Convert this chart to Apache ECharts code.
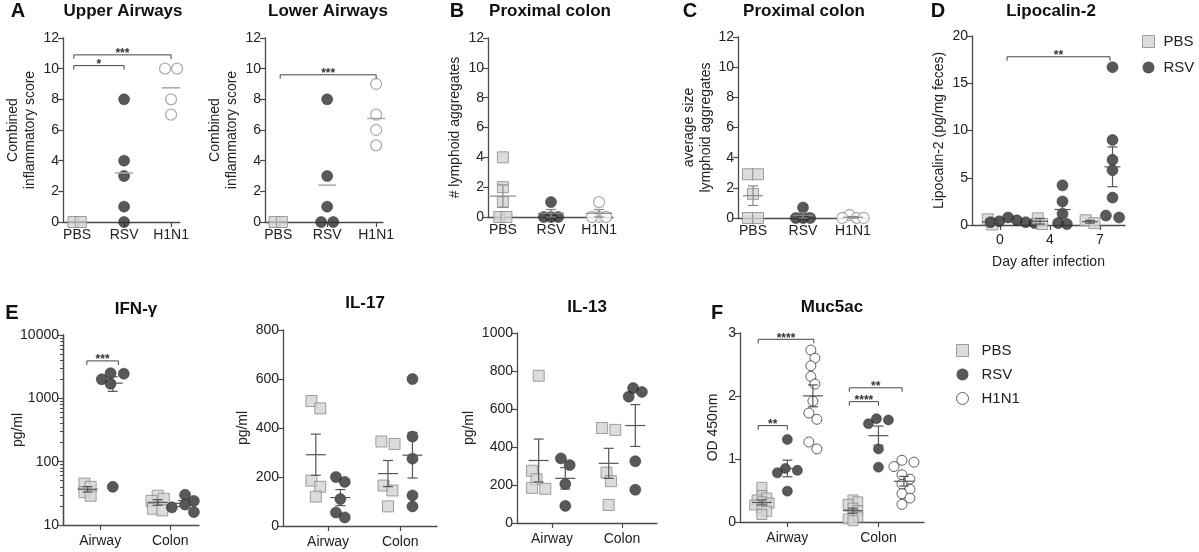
<!DOCTYPE html>
<html>
<head>
<meta charset="utf-8">
<script src="https://cdn.jsdelivr.net/npm/echarts@6/dist/echarts.min.js"></script>
<style>
html, body { margin: 0; padding: 0; background: #fff; }
#main { width: 1199px; height: 552px; }
</style>
</head>
<body>
<div id="main"></div>
<script>
// ---- data ----
var groups = ['PBS', 'RSV', 'H1N1'];
var upperPBS = [0, 0];
var upperRSV = [8, 4, 3, 1, 0];
var upperH1N1 = [10, 10, 8, 7];
var lowerPBS = [0, 0];
var lowerRSV = [8, 3, 1, 0, 0];
var lowerH1N1 = [9, 7, 6, 5];
var aggPBS = [4, 2, 1, 0, 0];
var aggRSV = [1, 0, 0, 0];
var aggH1N1 = [1, 0, 0, 0];
var sizePBS = [2.9, 2.9, 1.6, 0, 0];
var sizeRSV = [0.7, 0, 0, 0];
var sizeH1N1 = [0.2, 0, 0, 0];

var dayLabels = ['0', '4', '7'];
var lcnPBS = [[0.6, 0.05], [0.7, 0.1], [0.5, 0.2]];
var lcnRSV = [[0.8, 0.5, 0.4, 0.3, 0.3, 0.2], [4.2, 2.5, 1.2, 0.2, 0.1], [16.7, 9.0, 6.9, 5.8, 2.9, 1.0, 0.8]];

var sites = ['Airway', 'Colon'];
var ifngPBS = [[45, 40, 33, 29], [29, 26, 24, 18, 17]];
var ifngRSV = [[2500, 2450, 2000, 1700, 40], [30, 24, 21, 19, 16]];
var il17PBS = [[510, 480, 185, 160, 120], [345, 335, 165, 145, 80]];
var il17RSV = [[200, 180, 110, 55, 35], [600, 365, 275, 125, 80]];
var il13PBS = [[775, 275, 230, 185, 180], [500, 490, 265, 220, 95]];
var il13RSV = [[340, 305, 205, 90], [710, 690, 665, 325, 175]];
var mucPBS = [[0.55, 0.42, 0.38, 0.35, 0.32, 0.30, 0.27, 0.22, 0.17, 0.12], [0.35, 0.32, 0.28, 0.22, 0.18, 0.12, 0.08, 0.05, 0.02]];
var mucRSV = [[1.31, 0.85, 0.82, 0.78, 0.49], [1.64, 1.62, 1.56, 1.16, 0.87]];
var mucH1N1 = [[2.73, 2.60, 2.48, 2.31, 2.19, 1.92, 1.73, 1.63, 1.27, 1.16], [0.98, 0.95, 0.88, 0.75, 0.68, 0.60, 0.52, 0.45, 0.38, 0.28]];

// significance brackets: [from x, to x, y, label]
var sigUpper = [[0.93, 2, 10.2, '*'], [0.93, 3, 10.9, '***']];
var sigLower = [[1.04, 3, 9.6, '***']];
var sigLcn = [[1.14, 3.2, 17.8, '**']];
var sigIfng = [[0.81, 1.26, 3900, '***']];
var sigMuc = [[0.68, 1.29, 2.9, '****'], [0.68, 1.0, 1.53, '**'], [1.68, 2.26, 2.13, '**'], [1.68, 2.0, 1.91, '****']];

// ---- styling ----
var FONT = '"Liberation Sans", Arial, Helvetica, sans-serif';
var AX = '#4a4a4a';
var STY = {
    PBS: { symbol: 'rect', itemStyle: { color: '#d3d3d3', borderColor: '#8a8a8a', borderWidth: 1 } },
    RSV: { symbol: 'circle', itemStyle: { color: '#2f2f2f', borderColor: '#222', borderWidth: 0.6 } },
    H1N1: { symbol: 'circle', itemStyle: { color: '#fff', borderColor: '#9a9a9a', borderWidth: 1.3 } },
    H1N1dark: { symbol: 'circle', itemStyle: { color: '#fff', borderColor: '#3a3a3a', borderWidth: 1 } }
};

var grids = [], xAxes = [], yAxes = [], series = [];

function meanSem(v) {
    var n = v.length, m = 0, s = 0;
    v.forEach(function (a) { m += a; });
    m /= n;
    v.forEach(function (a) { s += (a - m) * (a - m); });
    var sem = n > 1 ? Math.sqrt(s / (n - 1)) / Math.sqrt(n) : 0;
    return [m, sem];
}

// column-scatter placement so close values sit side by side, clusters centred
function swarm(vals, cx, p, size, tf) {
    tf = tf || 1;
    var pxX = p.w / (p.xMax - p.xMin);
    var ly = function (v) {
        if (p.log) return (Math.log10(v) - Math.log10(p.yMin)) / (Math.log10(p.yMax) - Math.log10(p.yMin)) * p.h;
        return (v - p.yMin) / (p.yMax - p.yMin) * p.h;
    };
    var thr = p.thr * size * tf, step = p.step * size * tf;
    var order = vals.map(function (v, i) { return i; }).sort(function (a, b) { return vals[b] - vals[a]; });
    var placed = [];
    order.forEach(function (i) {
        var py = ly(vals[i]), off = 0;
        for (var k = 0; k < 40; k++) {
            off = k === 0 ? 0 : (k % 2 ? 1 : -1) * Math.ceil(k / 2) * step;
            var ok = placed.every(function (q) {
                var dx = off - q.off, dy = py - q.py;
                return dx * dx + dy * dy >= thr * thr;
            });
            if (ok) break;
        }
        placed.push({ off: off, py: py, v: vals[i] });
    });
    // centre each run of vertically close points
    var run = [];
    function flush() {
        if (run.length > 1) {
            var lo = Math.min.apply(null, run.map(function (q) { return q.off; }));
            var hi = Math.max.apply(null, run.map(function (q) { return q.off; }));
            run.forEach(function (q) { q.off -= (lo + hi) / 2; });
        }
        run = [];
    }
    placed.forEach(function (q, j) {
        if (j > 0 && placed[j - 1].py - q.py >= thr) flush();
        run.push(q);
    });
    flush();
    return placed.map(function (q) { return [cx + q.off / pxX, q.v]; });
}

function plain(v) { return String(Math.round(v * 1000) / 1000); }

function addPanel(p) {
    var gi = grids.length;
    grids.push({ left: p.left, top: p.top, width: p.w, height: p.h });
    xAxes.push({
        gridIndex: gi, type: 'value', min: p.xMin, max: p.xMax,
        axisLine: { show: true, onZero: false, lineStyle: { color: AX, width: 1.3 } },
        axisTick: { show: true, customValues: p.ticks, length: 5, lineStyle: { color: AX, width: 1.2 } },
        axisLabel: {
            customValues: p.ticks, fontSize: 14, color: '#222', fontFamily: FONT, margin: p.xMargin || 6,
            formatter: function (v) { return p.cats[Math.round(v) - 1] || ''; }
        },
        splitLine: { show: false },
        name: p.xName || '', nameLocation: 'middle', nameGap: 30,
        nameTextStyle: { fontSize: 14, color: '#222', fontFamily: FONT }
    });
    var ya = {
        gridIndex: gi, type: p.log ? 'log' : 'value', min: p.yMin, max: p.yMax, position: 'left',
        axisLine: { show: true, onZero: false, lineStyle: { color: AX, width: 1.3 } },
        axisTick: { show: true, length: 5, lineStyle: { color: AX, width: 1.2 } },
        axisLabel: { fontSize: 14, color: '#222', fontFamily: FONT, margin: 4, formatter: plain },
        splitLine: { show: false },
        name: p.yName, nameLocation: 'middle', nameRotate: 90, nameGap: p.nameGap,
        nameTextStyle: { fontSize: 14, color: '#222', fontFamily: FONT, lineHeight: 17 }
    };
    if (p.log) {
        ya.logBase = 10;
        ya.nameMoveOverlap = false;
        ya.axisTick.customValues = p.logTicks;
        ya.axisLabel.customValues = p.logTicks;
    } else {
        ya.interval = p.yInt;
    }
    var yi = yAxes.length;
    yAxes.push(ya);
    if (p.log) {
        // minor ticks between decades
        var minor = [];
        for (var d = p.yMin; d < p.yMax; d *= 10) {
            for (var k = 2; k < 10; k++) minor.push(d * k);
        }
        yAxes.push({
            gridIndex: gi, type: 'log', logBase: 10, min: p.yMin, max: p.yMax, position: 'left', offset: 0,
            axisLine: { show: true, onZero: false, lineStyle: { color: AX, width: 1.3 } },
            splitLine: { show: false },
            axisLabel: { show: false, customValues: minor },
            axisTick: { show: true, customValues: minor, length: 3, lineStyle: { color: AX, width: 1 } }
        });
    }
    p.xi = gi; p.yi = yi;
    return p;
}

function addGroup(p, name, vals, cx, styleKey, size, tf) {
    var st = STY[styleKey || name];
    series.push({
        type: 'scatter', name: name, xAxisIndex: p.xi, yAxisIndex: p.yi,
        data: swarm(vals, cx, p, size, tf), clip: false,
        symbol: st.symbol, symbolSize: size, itemStyle: st.itemStyle,
        silent: true, z: 2, animation: false
    });
    var ms = meanSem(vals);
    series.push({
        type: 'custom', xAxisIndex: p.xi, yAxisIndex: p.yi, silent: true, z: 6, animation: false,
        data: [[cx, ms[0], ms[0] - ms[1], ms[0] + ms[1]]],
        renderItem: function (params, api) {
            var c = api.coord([api.value(0), api.value(1)]);
            var lo = api.coord([api.value(0), api.value(2)]);
            var hi = api.coord([api.value(0), api.value(3)]);
            var ls = { stroke: p.meanColor, lineWidth: p.meanWidth };
            var kids = [{ type: 'line', shape: { x1: c[0] - p.meanHalf, y1: c[1], x2: c[0] + p.meanHalf, y2: c[1] }, style: ls }];
            if (p.errBars) {
                kids.push({ type: 'line', shape: { x1: c[0], y1: lo[1], x2: c[0], y2: hi[1] }, style: ls });
                kids.push({ type: 'line', shape: { x1: c[0] - 5, y1: lo[1], x2: c[0] + 5, y2: lo[1] }, style: ls });
                kids.push({ type: 'line', shape: { x1: c[0] - 5, y1: hi[1], x2: c[0] + 5, y2: hi[1] }, style: ls });
            }
            return { type: 'group', children: kids };
        }
    });
}

function addSig(p, list) {
    series.push({
        type: 'custom', xAxisIndex: p.xi, yAxisIndex: p.yi, silent: true, z: 7, animation: false,
        data: list.map(function (s) { return [s[0], s[1], s[2]]; }),
        renderItem: function (params, api) {
            var a = api.coord([api.value(0), api.value(2)]);
            var b = api.coord([api.value(1), api.value(2)]);
            var lab = list[params.dataIndex][3];
            return {
                type: 'group', children: [
                    { type: 'polyline', shape: { points: [[a[0], a[1] + 4], [a[0], a[1]], [b[0], a[1]], [b[0], a[1] + 4]] },
                      style: { stroke: '#444', lineWidth: 1, fill: null } },
                    { type: 'text', style: { text: lab, x: (a[0] + b[0]) / 2, y: a[1] - 1, align: 'center', verticalAlign: 'middle',
                      font: 'bold 12px ' + FONT, fill: '#333' } }
                ]
            };
        }
    });
}

// ---- panels ----
var base = { ticks: [1, 2, 3], cats: groups, thr: 0.9, step: 0.55, meanColor: '#a8a8a8', meanWidth: 1.5, meanHalf: 9, errBars: false };
function P(o) { var r = {}; for (var k in base) r[k] = base[k]; for (var j in o) r[j] = o[j]; return r; }

var pUp = addPanel(P({ left: 63, top: 38, w: 117, h: 184, xMin: 0.7, xMax: 3.19, yMin: 0, yMax: 12, yInt: 2,
    yName: 'Combined\ninflammatory score', nameGap: 24 }));
addGroup(pUp, 'PBS', upperPBS, 1, null, 11, 0.6);
addGroup(pUp, 'RSV', upperRSV, 2, null, 11);
addGroup(pUp, 'H1N1', upperH1N1, 3, null, 11);
addSig(pUp, sigUpper);

var pLo = addPanel(P({ left: 265, top: 38, w: 118, h: 184, xMin: 0.73, xMax: 3.14, yMin: 0, yMax: 12, yInt: 2,
    yName: 'Combined\ninflammatory score', nameGap: 24 }));
addGroup(pLo, 'PBS', lowerPBS, 1, null, 11, 0.6);
addGroup(pLo, 'RSV', lowerRSV, 2, null, 11);
addGroup(pLo, 'H1N1', lowerH1N1, 3, null, 11);
addSig(pLo, sigLower);

var pB = addPanel(P({ left: 488, top: 38, w: 125, h: 179, xMin: 0.69, xMax: 3.29, yMin: 0, yMax: 12, yInt: 2,
    yName: '# lymphoid aggregates', nameGap: 24, thr: 0.65, step: 0.65, meanColor: '#888', meanWidth: 1.2, meanHalf: 13, errBars: true }));
addGroup(pB, 'PBS', aggPBS, 1, null, 11);
addGroup(pB, 'RSV', aggRSV, 2, null, 11);
addGroup(pB, 'H1N1', aggH1N1, 3, null, 11);

var pC = addPanel(P({ left: 738, top: 37, w: 129, h: 181, xMin: 0.7, xMax: 3.28, yMin: 0, yMax: 12, yInt: 2,
    yName: 'average size\nlymphoid aggregates', nameGap: 20, thr: 0.65, step: 0.65, meanColor: '#888', meanWidth: 1.2, meanHalf: 10, errBars: true }));
addGroup(pC, 'PBS', sizePBS, 1, null, 11, 1.4);
addGroup(pC, 'RSV', sizeRSV, 2, null, 11);
addGroup(pC, 'H1N1', sizeH1N1, 3, null, 11);

var pD = addPanel(P({ left: 972, top: 36, w: 153, h: 189, xMin: 0.44, xMax: 3.5, yMin: 0, yMax: 20, yInt: 5,
    cats: dayLabels, xName: 'Day after infection', yName: 'Lipocalin-2 (pg/mg feces)', nameGap: 24, xMargin: 8,
    thr: 0.6, step: 0.4, meanColor: '#555', meanWidth: 1.2, meanHalf: 8, errBars: true }));
for (var d = 0; d < 3; d++) {
    addGroup(pD, 'PBS', lcnPBS[d], d + 1 - 0.2, null, 11);
    addGroup(pD, 'RSV', lcnRSV[d], d + 1 + 0.25, null, 11, d === 2 ? 1.5 : 1);
}
addSig(pD, sigLcn);

var eBase = { ticks: [1, 2], cats: sites, thr: 0.85, step: 0.4, meanColor: '#555', meanWidth: 1.2, meanHalf: 10, errBars: true, xMargin: 9 };
function E(o) { var r = P(eBase); for (var k in eBase) r[k] = eBase[k]; for (var j in o) r[j] = o[j]; return r; }

var pIfn = addPanel(E({ left: 63, top: 335, w: 136, h: 190, xMin: 0.47, xMax: 2.41, yMin: 10, yMax: 10000, log: true,
    logTicks: [10, 100, 1000, 10000], yName: 'pg/ml', nameGap: 36 }));
var p17 = addPanel(E({ left: 283, top: 330, w: 154, h: 196, xMin: 0.375, xMax: 2.51, yMin: 0, yMax: 800, yInt: 200,
    yName: 'pg/ml', nameGap: 20 }));
var p13 = addPanel(E({ left: 517, top: 333, w: 140, h: 190, xMin: 0.5, xMax: 2.5, yMin: 0, yMax: 1000, yInt: 200,
    yName: 'pg/ml', nameGap: 39 }));
var pF = addPanel(E({ left: 740, top: 333, w: 184, h: 189, xMin: 0.48, xMax: 2.5, yMin: 0, yMax: 3, yInt: 1,
    yName: 'OD 450nm', nameGap: 18 }));
for (var s = 0; s < 2; s++) {
    addGroup(pIfn, 'PBS', ifngPBS[s], s + 1 - 0.18, null, 11, 0.7);
    addGroup(pIfn, 'RSV', ifngRSV[s], s + 1 + 0.18, null, 11);
    addGroup(p17, 'PBS', il17PBS[s], s + 1 - 0.17, null, 11);
    addGroup(p17, 'RSV', il17RSV[s], s + 1 + 0.17, null, 11);
    addGroup(p13, 'PBS', il13PBS[s], s + 1 - 0.19, null, 11);
    addGroup(p13, 'RSV', il13RSV[s], s + 1 + 0.19, null, 11);
    addGroup(pF, 'PBS', mucPBS[s], s + 1 - 0.28, null, 10, 0.6);
    addGroup(pF, 'RSV', mucRSV[s], s + 1, null, 10);
    addGroup(pF, 'H1N1', mucH1N1[s], s + 1 + 0.28, 'H1N1dark', 10);
}
addSig(pIfn, sigIfng);
addSig(pF, sigMuc);

// ---- titles ----
var heads = [
    ['A', 18, 11, 20], ['Upper Airways', 123, 11, 17], ['Lower Airways', 328, 11, 17],
    ['B', 457, 11, 20], ['Proximal colon', 550, 11, 17],
    ['C', 690, 11, 20], ['Proximal colon', 804, 11, 17],
    ['D', 938, 11, 20], ['Lipocalin-2', 1051, 11, 17],
    ['E', 12, 313, 20], ['IFN-\u03b3', 136, 309, 17], ['IL-17', 365, 303, 17],
    ['IL-13', 587, 307, 17], ['F', 717, 313, 20], ['Muc5ac', 832, 307, 17]
];
var graphic = heads.map(function (h) {
    return { type: 'text', x: h[1], y: h[2], silent: true,
        style: { text: h[0], align: 'center', verticalAlign: 'middle', font: 'bold ' + h[3] + 'px ' + FONT, fill: '#111' } };
});

var legItem = {
    PBS: { name: 'PBS', icon: 'rect', itemStyle: { color: '#d3d3d3', borderColor: '#8a8a8a', borderWidth: 1 } },
    RSV: { name: 'RSV', icon: 'circle', itemStyle: { color: '#2f2f2f', borderColor: '#2f2f2f', borderWidth: 0 } },
    H1N1: { name: 'H1N1', icon: 'circle', itemStyle: { color: '#fff', borderColor: '#3a3a3a', borderWidth: 1 } }
};

var myChart = echarts.init(document.getElementById('main'));
myChart.setOption({
    animation: false,
    backgroundColor: '#fff',
    grid: grids,
    xAxis: xAxes,
    yAxis: yAxes,
    series: series,
    graphic: graphic,
    legend: [
        { left: 1137, top: 29, orient: 'vertical', itemWidth: 12, itemHeight: 12, itemGap: 11, selectedMode: false,
          textStyle: { fontSize: 15, color: '#222', fontFamily: FONT, padding: [0, 0, 0, 4] },
          data: [legItem.PBS, legItem.RSV] },
        { left: 951, top: 338, orient: 'vertical', itemWidth: 12, itemHeight: 12, itemGap: 9, selectedMode: false,
          textStyle: { fontSize: 15, color: '#222', fontFamily: FONT, padding: [0, 0, 0, 8] },
          data: [legItem.PBS, legItem.RSV, legItem.H1N1] }
    ]
});
</script>
</body>
</html>
